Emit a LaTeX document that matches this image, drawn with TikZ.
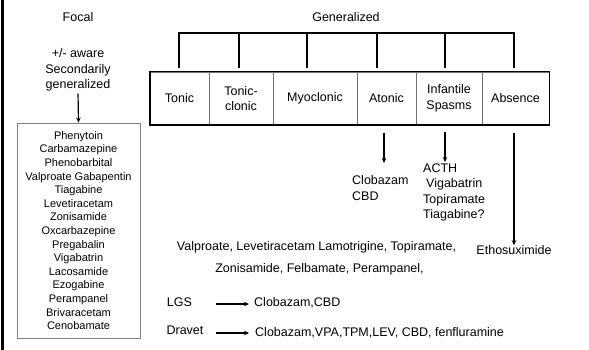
\documentclass[tikz,border=0pt]{standalone}
\usepackage{fontspec}
\setmainfont{Liberation Sans}
\usetikzlibrary{arrows.meta}
\begin{document}
\begin{tikzpicture}[x=1pt,y=-1pt,
  txt/.style={font=\fontsize{12.5}{15.5}\selectfont, inner sep=0pt, align=center},
  small/.style={font=\fontsize{11}{13.6}\selectfont, inner sep=0pt, align=center},
  cell/.style={txt, draw=black!55, line width=0.8pt, minimum height=53pt},
  arr/.style={line width=1.2pt, -{Stealth[length=5pt,width=4.5pt]}},
  tree/.style={line width=1.3pt}]
\useasboundingbox (0,0) rectangle (589,350);
\fill[white] (0,0) rectangle (589,350);
% page rule on the left
\fill[black] (0.5,-1) rectangle (4,351);

% focal column
\node[txt] (focal) at (78,17) {Focal};
\node[txt] (sec) at (78,70) {+/- aware\\Secondarily\\generalized};
\node[small, draw=black!50, line width=0.8pt, minimum width=123pt, minimum height=215pt]
  (focaldrugs) at (78.5,230.5)
  {Phenytoin\\Carbamazepine\\Phenobarbital\\Valproate Gabapentin\\Tiagabine\\Levetiracetam\\
   Zonisamide\\Oxcarbazepine\\Pregabalin\\Vigabatrin\\Lacosamide\\Ezogabine\\Perampanel\\
   Brivaracetam\\Cenobamate};
\draw[arr, shorten <=2pt] (sec.south) -- (focaldrugs.north);

% generalized seizure types
\node[txt] (gen) at (346,17) {Generalized};
\node[cell, minimum width=59pt] (tonic) at (179.5,98.5) {Tonic};
\node[cell, minimum width=64pt] (tclonic) at (241,98.5) {Tonic-\\clonic};
\node[cell, minimum width=84pt] (myo) at (315,98.5) {Myoclonic};
\node[cell, minimum width=59pt] (atonic) at (386.5,98.5) {Atonic};
\node[cell, minimum width=66pt] (infant) at (449,98.5) {Infantile\\Spasms};
\node[cell, minimum width=67pt] (absence) at (515.5,98.5) {Absence};
\draw[line width=1.8pt] (tonic.north west) rectangle (absence.south east);

% bracket above the row
\draw[tree] (179,68) |- (514,33) -- (514,68);
\foreach \x in {239,307,377,445} \draw[tree] (\x,33) -- (\x,68);

% drugs for each type
\node[txt, align=left, anchor=west] (atonicdrugs) at (352,188) {Clobazam\\CBD};
\node[txt, align=left, anchor=west] (infantdrugs) at (423,192.5)
  {ACTH\\\hspace*{3pt}Vigabatrin\\Topiramate\\Tiagabine?};
\node[txt] (etho) at (514,250) {Ethosuximide};
\coordinate (atonicA) at (384,133);
\coordinate (atonicB) at (384,163);
\coordinate (infantA) at (445,132);
\coordinate (infantB) at (445,162);
\coordinate (absenceA) at (514,133);
\draw[arr] (atonicA) -- (atonicB);
\draw[arr] (infantA) -- (infantB);
\draw[arr] (absenceA) -- (etho.north);

\node[txt] (broad1) at (316.5,247) {Valproate, Levetiracetam Lamotrigine, Topiramate,};
\node[txt] (broad2) at (319.5,269) {Zonisamide, Felbamate, Perampanel,};

% syndromes
\node[txt] (lgs) at (179.5,302) {LGS};
\node[txt, anchor=west] (lgsdrugs) at (254,303) {Clobazam,CBD};
\node[txt] (dravet) at (185,330) {Dravet};
\node[txt, anchor=west] (dravetdrugs) at (255,333) {Clobazam,VPA,TPM,LEV, CBD, fenfluramine};
\coordinate (lgsA) at (216,304);
\coordinate (dravetA) at (216,333);
\draw[arr, shorten >=5pt] (lgsA) -- (lgsA -| lgsdrugs.west);
\draw[arr, shorten >=6pt] (dravetA) -- (dravetA -| dravetdrugs.west);
\end{tikzpicture}
\end{document}
